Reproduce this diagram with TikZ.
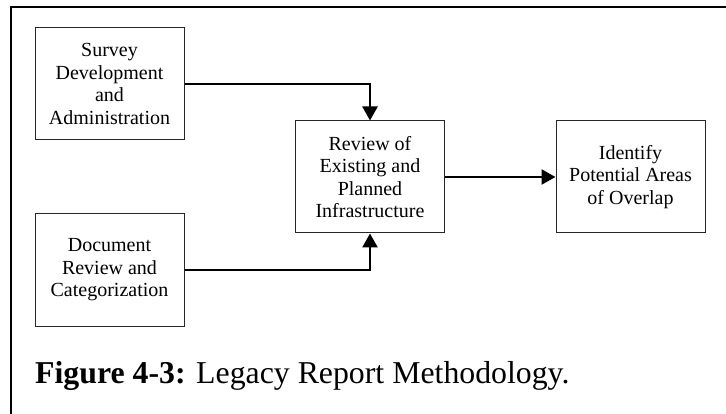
\documentclass[tikz,border=0pt]{standalone}
\usepackage{fontspec}
\setmainfont{Liberation Serif}
\usetikzlibrary{arrows.meta}
\begin{document}
\begin{tikzpicture}[x=1pt,y=-1pt,
  stepbox/.style={draw=black!85, line width=1pt, minimum width=149pt,
    minimum height=112pt, inner sep=0pt, align=center,
    font=\fontsize{20}{22.6}\selectfont},
  flow/.style={line width=2.4pt, -{Triangle[length=14pt,width=15pt]}}]
\useasboundingbox (0,0) rectangle (726,414);
\fill[white] (0,0) rectangle (726,414);
% frame rule along the top and left
\draw[line width=2.2pt] (726,7) -- (11,7) -- (11,414);
% process steps
\node[stepbox] (survey) at (109.5,84) {Survey\\Development\\and\\Administration};
\node[stepbox] (doc) at (109.5,270) {Document\\Review and\\Categorization};
\node[stepbox] (review) at (370,177) {Review of\\Existing and\\Planned\\Infrastructure};
\node[stepbox] (ident) at (630.5,177) {Identify\\Potential Areas\\of Overlap};
% connectors
\draw[flow] (survey.east) -| (review.north);
\draw[flow] (doc.east) -| (review.south);
\draw[flow] (review.east) -- (ident.west);
% caption
\node[anchor=base west, font=\fontsize{31.8}{36}\selectfont, inner sep=0pt] (cap) at (35,383)
  {\textbf{Figure 4-3:} Legacy Report Methodology.};
\end{tikzpicture}
\end{document}
